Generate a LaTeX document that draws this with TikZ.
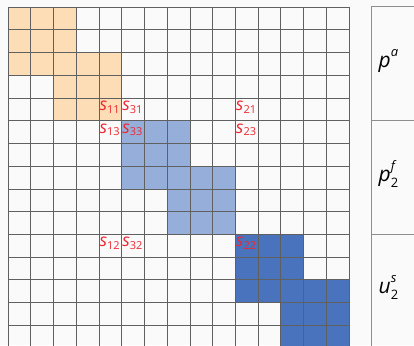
\documentclass[tikz,border=0pt]{standalone}
\usepackage{fontspec}
\setmainfont{Open Sans}
\usepackage{tikz}
\definecolor{blkpeach}{HTML}{FCDDB5}
\definecolor{blklight}{HTML}{95AEDA}
\definecolor{blkdark}{HTML}{4A73BD}
\definecolor{lblred}{HTML}{F0262F}
\definecolor{gridink}{HTML}{606060}
\definecolor{rulegray}{HTML}{8E8E8E}
\definecolor{pagebg}{HTML}{FAFAFA}
\newcommand\sidx[1]{\textit{s}\raisebox{-.3ex}{\fontsize{11}{11}\selectfont#1}}
\newcommand\varlbl[3]{\textit{#1}\rlap{\raisebox{.55em}{\fontsize{13}{13}\selectfont\textit{#2}}}\raisebox{-.28em}{\fontsize{13}{13}\selectfont#3}}

\begin{document}
\begin{tikzpicture}[x=8mm,y=8mm,
  cellgrid/.style={draw=gridink,line width=.6pt,xstep=8mm,ystep=8mm},
  tabrule/.style={draw=rulegray,line width=1pt},
  slbl/.style={anchor=base west,inner sep=0pt,text=lblred,font=\fontsize{17.5}{17.5}\selectfont},
  vlbl/.style={anchor=base west,inner sep=0pt,font=\fontsize{21}{21}\selectfont}]
\useasboundingbox[fill=pagebg] (-.352,.308) rectangle (17.86,-14.87);
\clip (-.352,.308) rectangle (17.86,-14.87);
% two overlapping 3x3 blocks per colour
\foreach \c/\col in {0/blkpeach,2/blkpeach,5/blklight,7/blklight,10/blkdark,12/blkdark}
  \fill[\col] (\c,-\c) rectangle ++(3,-3);
\draw[cellgrid] (0,0) grid (15,-15);
% block entries
\foreach \r/\c/\ij in {4/4/11,4/5/31,4/10/21,5/4/13,5/5/33,5/10/23,10/4/12,10/5/32,10/10/22}
  \node[slbl] (s\ij) at (\c+.02,-\r-.55) {\sidx{\ij}};
% right-hand column
\draw[tabrule] (16,-15.5) -- (16,0) -- (18.5,0);
\draw[tabrule] (16,-5) -- (18.5,-5) (16,-10) -- (18.5,-10);
\node[vlbl] (pa) at (16.3,-2.68) {\varlbl{p}{a}{}};
\node[vlbl] (pf) at (16.3,-7.68) {\varlbl{p}{f}{2}};
\node[vlbl] (us) at (16.3,-12.62) {\varlbl{u}{s}{2}};
\end{tikzpicture}
\end{document}
